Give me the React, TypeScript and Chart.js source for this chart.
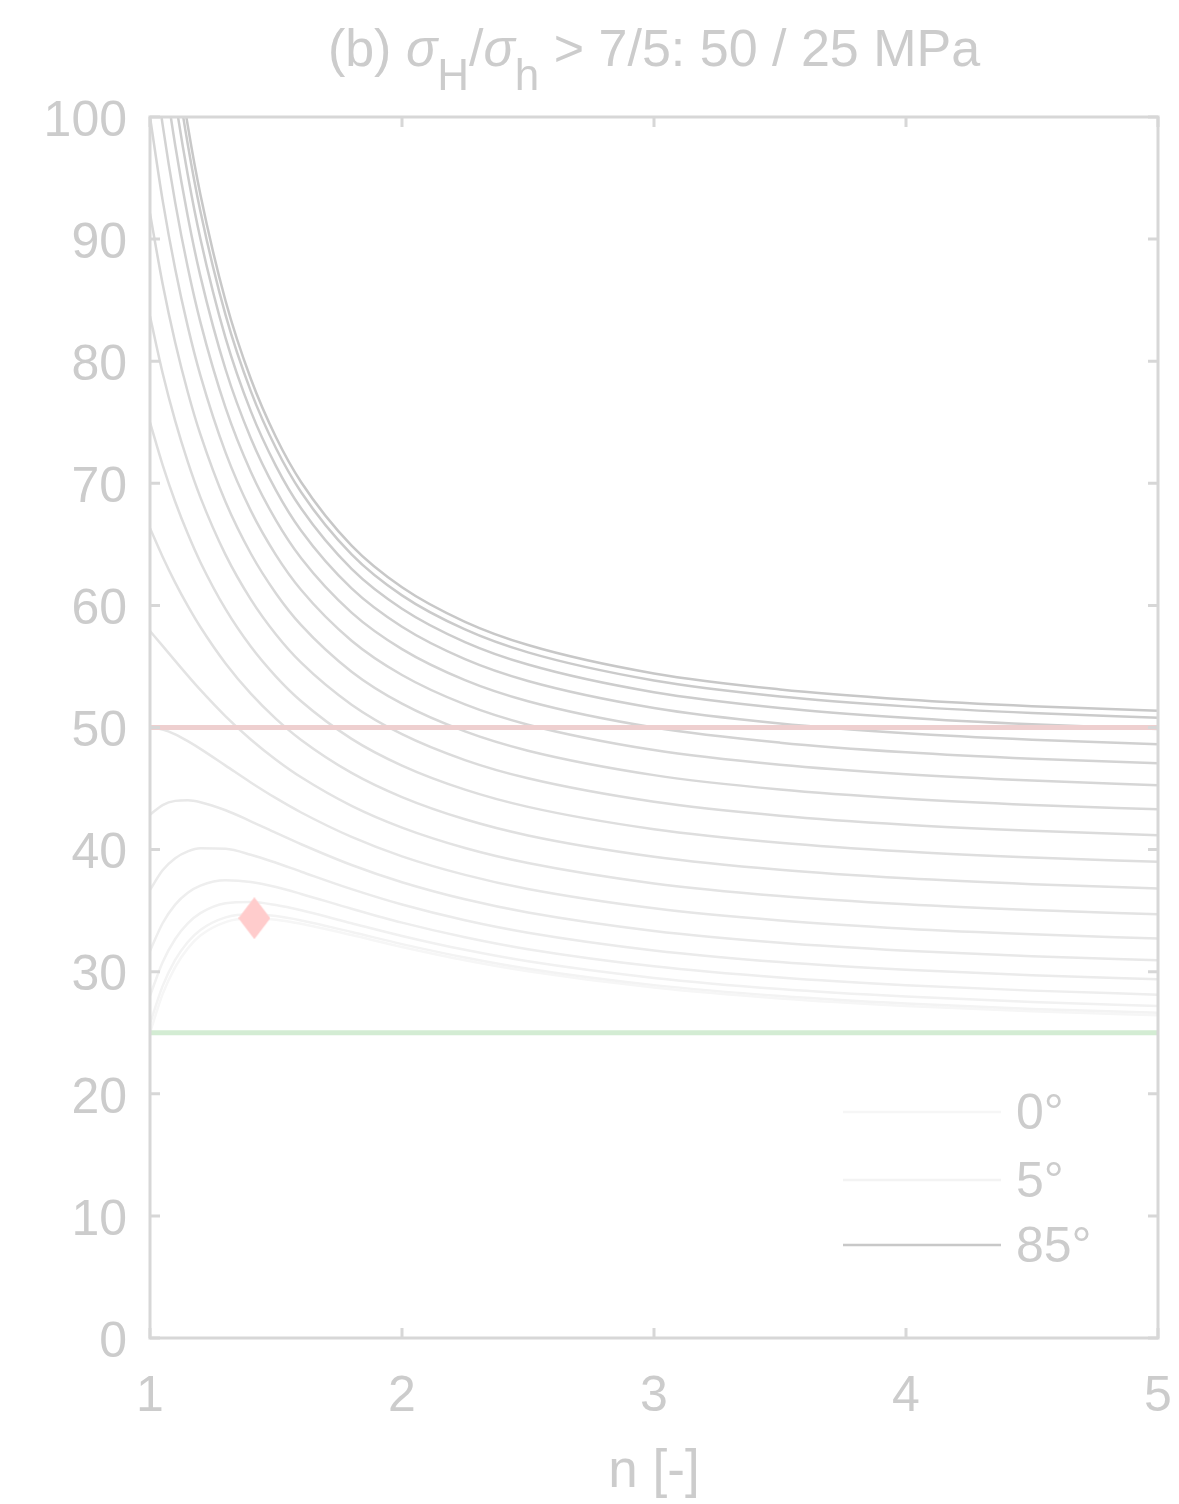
import React, { useEffect, useRef } from 'react';
import { Chart, registerables } from 'chart.js';

Chart.register(...registerables);

// ---------------- data ----------------
const N_VALUES = [1, 1.05, 1.1, 1.15, 1.2, 1.3, 1.4, 1.5, 1.6, 1.8, 2, 2.25, 2.5, 3, 3.5, 4, 4.5, 5];

const ANGLE_LABELS = ['0°', '5°', '10°', '15°', '20°', '25°', '30°', '35°', '40°', '45°', '50°', '55°', '60°', '65°', '70°', '75°', '80°', '85°'];

const S_00 = [25.0, 28.16, 30.38, 31.91, 32.96, 34.06, 34.37, 34.26, 33.93, 33.0, 32.03, 30.94, 30.04, 28.7, 27.81, 27.2, 26.76, 26.44];
const S_05 = [25.76, 28.82, 30.96, 32.43, 33.42, 34.45, 34.71, 34.56, 34.2, 33.25, 32.26, 31.16, 30.24, 28.9, 28.01, 27.39, 26.95, 26.63];
const S_10 = [28.02, 30.78, 32.68, 33.96, 34.8, 35.61, 35.71, 35.46, 35.03, 33.97, 32.93, 31.79, 30.85, 29.49, 28.58, 27.96, 27.52, 27.2];
const S_15 = [31.7, 33.97, 35.49, 36.46, 37.05, 37.49, 37.35, 36.93, 36.37, 35.16, 34.02, 32.82, 31.84, 30.44, 29.52, 28.89, 28.45, 28.12];
const S_20 = [36.7, 38.31, 39.3, 39.86, 40.11, 40.06, 39.58, 38.92, 38.19, 36.76, 35.5, 34.21, 33.19, 31.74, 30.79, 30.16, 29.71, 29.38];
const S_25 = [42.86, 43.65, 43.99, 44.04, 43.88, 43.22, 42.32, 41.37, 40.44, 38.74, 37.33, 35.93, 34.85, 33.34, 32.37, 31.72, 31.26, 30.93];
const S_30 = [50.0, 49.84, 49.44, 48.88, 48.25, 46.88, 45.5, 44.21, 43.04, 41.04, 39.45, 37.93, 36.77, 35.19, 34.19, 33.52, 33.06, 32.72];
const S_35 = [57.9, 56.69, 55.46, 54.25, 53.08, 50.92, 49.02, 47.36, 45.92, 43.58, 41.8, 40.13, 38.9, 37.23, 36.2, 35.52, 35.05, 34.7];
const S_40 = [66.32, 63.99, 61.87, 59.96, 58.23, 55.24, 52.77, 50.71, 48.98, 46.28, 44.3, 42.48, 41.16, 39.42, 38.35, 37.65, 37.17, 36.82];
const S_45 = [75.0, 71.51, 68.49, 65.86, 63.54, 59.69, 56.63, 54.17, 52.15, 49.07, 46.88, 44.91, 43.5, 41.67, 40.56, 39.84, 39.35, 39.0];
const S_50 = [83.68, 79.04, 75.11, 71.75, 68.85, 64.14, 60.5, 57.62, 55.31, 51.87, 49.45, 47.33, 45.84, 43.92, 42.78, 42.04, 41.54, 41.18];
const S_55 = [92.1, 86.34, 81.53, 77.46, 74.0, 68.46, 64.25, 60.98, 58.38, 54.57, 51.95, 49.68, 48.1, 46.1, 44.92, 44.17, 43.66, 43.3];
const S_60 = [100.0, 93.19, 87.55, 82.83, 78.84, 72.51, 67.76, 64.12, 61.26, 57.11, 54.3, 51.89, 50.23, 48.15, 46.94, 46.17, 45.65, 45.28];
const S_65 = [107.14, 99.38, 92.99, 87.67, 83.2, 76.17, 70.94, 66.96, 63.86, 59.41, 56.42, 53.88, 52.15, 50.0, 48.76, 47.97, 47.44, 47.08];
const S_70 = [113.3, 104.72, 97.69, 91.86, 86.97, 79.32, 73.69, 69.42, 66.11, 61.39, 58.25, 55.6, 53.81, 51.6, 50.33, 49.53, 49.0, 48.62];
const S_75 = [118.3, 109.06, 101.5, 95.25, 90.03, 81.89, 75.91, 71.41, 67.93, 62.99, 59.73, 57.0, 55.16, 52.89, 51.6, 50.8, 50.26, 49.88];
const S_80 = [121.98, 112.25, 104.31, 97.75, 92.28, 83.77, 77.55, 72.87, 69.27, 64.18, 60.82, 58.03, 56.15, 53.85, 52.54, 51.73, 51.18, 50.8];
const S_85 = [124.24, 114.21, 106.03, 99.28, 93.66, 84.93, 78.56, 73.77, 70.09, 64.9, 61.49, 58.66, 56.76, 54.43, 53.12, 52.3, 51.75, 51.37];

const SERIES = [S_00, S_05, S_10, S_15, S_20, S_25, S_30, S_35, S_40, S_45, S_50, S_55, S_60, S_65, S_70, S_75, S_80, S_85];

const LEGEND_SHOWN = ['0°', '5°', '85°'];

const SIGMA_H = 50;
const SIGMA_h = 25;
const PEAK_N = 1.414;
const PEAK_VALUE = 34.38;

const X_RANGE = [1, 5];
const Y_RANGE = [0, 100];
const X_TICKS = [1, 2, 3, 4, 5];
const Y_TICKS = [0, 10, 20, 30, 40, 50, 60, 70, 80, 90, 100];

const X_TITLE = 'n [-]';
const TITLE_PARTS = [
  { text: '(b) ', kind: 'main' },
  { text: 'σ', kind: 'italic' },
  { text: 'H', kind: 'sub' },
  { text: '/', kind: 'main' },
  { text: 'σ', kind: 'italic' },
  { text: 'h', kind: 'sub' },
  { text: ' > 7/5: 50 / 25 MPa', kind: 'main' },
];

// ---------------- styles ----------------
const FONT = "'Liberation Sans', Arial, Helvetica, sans-serif";
const TEXT_COLOR = '#cccccc';
const FRAME_COLOR = '#d7d7d7';
const PINK = '#eecfcf';
const GREEN = '#d3ecd3';
const DIAMOND = '#ffcccc';
const TICK_LEN = 10;

function grayFor(i: number) {
  const v = Math.round(246 - (46 * i) / 17);
  return `rgb(${v},${v},${v})`;
}

function makeDiamond() {
  const c = document.createElement('canvas');
  c.width = 32;
  c.height = 42;
  const g = c.getContext('2d')!;
  g.fillStyle = DIAMOND;
  g.beginPath();
  g.moveTo(16, 0);
  g.lineTo(32, 21);
  g.lineTo(16, 42);
  g.lineTo(0, 21);
  g.closePath();
  g.fill();
  return c;
}

const framePlugin = {
  id: 'frameTicks',
  afterDatasetsDraw(chart: any) {
    const { ctx, chartArea: a, scales } = chart;
    ctx.save();
    ctx.strokeStyle = FRAME_COLOR;
    ctx.lineWidth = 3;
    ctx.strokeRect(a.left, a.top, a.right - a.left, a.bottom - a.top);
    ctx.beginPath();
    X_TICKS.forEach((v) => {
      const x = scales.x.getPixelForValue(v);
      ctx.moveTo(x, a.bottom);
      ctx.lineTo(x, a.bottom - TICK_LEN);
      ctx.moveTo(x, a.top);
      ctx.lineTo(x, a.top + TICK_LEN);
    });
    Y_TICKS.forEach((v) => {
      const y = scales.y.getPixelForValue(v);
      ctx.moveTo(a.left, y);
      ctx.lineTo(a.left + TICK_LEN, y);
      ctx.moveTo(a.right, y);
      ctx.lineTo(a.right - TICK_LEN, y);
    });
    ctx.stroke();
    ctx.restore();
  },
};

const titlePlugin = {
  id: 'subTitle',
  afterDraw(chart: any) {
    const { ctx, chartArea: a } = chart;
    const fonts: Record<string, string> = {
      main: `52px ${FONT}`,
      italic: `italic 52px ${FONT}`,
      sub: `44px ${FONT}`,
    };
    const baseY = 66;
    const subY = 90;
    ctx.save();
    let total = 0;
    const widths = TITLE_PARTS.map((p) => {
      ctx.font = fonts[p.kind];
      const w = ctx.measureText(p.text).width;
      total += w;
      return w;
    });
    let x = (a.left + a.right) / 2 - total / 2;
    ctx.fillStyle = TEXT_COLOR;
    ctx.textBaseline = 'alphabetic';
    ctx.textAlign = 'left';
    TITLE_PARTS.forEach((p, i) => {
      ctx.font = fonts[p.kind];
      ctx.fillText(p.text, x, p.kind === 'sub' ? subY : baseY);
      x += widths[i];
    });
    ctx.restore();
  },
};

const legendPlugin = {
  id: 'insideLegend',
  afterDraw(chart: any) {
    const { ctx, chartArea: a } = chart;
    const rowOffsets = [226, 158, 93];
    ctx.save();
    ctx.font = `50px ${FONT}`;
    ctx.textBaseline = 'middle';
    ctx.textAlign = 'left';
    LEGEND_SHOWN.forEach((label, k) => {
      const idx = ANGLE_LABELS.indexOf(label);
      const y = a.bottom - rowOffsets[k];
      ctx.strokeStyle = grayFor(idx);
      ctx.lineWidth = 2.5;
      ctx.beginPath();
      ctx.moveTo(a.right - 315, y);
      ctx.lineTo(a.right - 157, y);
      ctx.stroke();
      ctx.fillStyle = TEXT_COLOR;
      ctx.fillText(label, a.right - 142, y + 3);
    });
    ctx.restore();
  },
};

export default function App() {
  const canvasRef = useRef<HTMLCanvasElement | null>(null);

  useEffect(() => {
    if (!canvasRef.current) return;
    const diamond = makeDiamond();

    const curveSets = SERIES.map((s, i) => ({
      label: ANGLE_LABELS[i],
      data: N_VALUES.map((n, j) => ({ x: n, y: s[j] })),
      borderColor: grayFor(i),
      borderWidth: 2.5,
      pointRadius: 0,
      cubicInterpolationMode: 'monotone' as const,
      fill: false,
      order: 2 + (SERIES.length - 1 - i),
    }));

    const chart = new Chart(canvasRef.current, {
      type: 'line',
      data: {
        datasets: [
          {
            label: 'peak',
            data: [{ x: PEAK_N, y: PEAK_VALUE }],
            showLine: false,
            pointStyle: diamond as any,
            pointRadius: 20,
            order: 0,
          },
          {
            label: 'sigma_H',
            data: X_RANGE.map((x) => ({ x, y: SIGMA_H })),
            borderColor: PINK,
            borderWidth: 5,
            pointRadius: 0,
            order: 1,
          },
          {
            label: 'sigma_h',
            data: X_RANGE.map((x) => ({ x, y: SIGMA_h })),
            borderColor: GREEN,
            borderWidth: 5,
            pointRadius: 0,
            order: 1,
          },
          ...curveSets,
        ] as any,
      },
      options: {
        responsive: false,
        devicePixelRatio: 1,
        animation: false,
        events: [],
        layout: { padding: { top: 117, right: 17, left: 0, bottom: 0 } },
        plugins: {
          legend: { display: false },
          title: { display: false },
          tooltip: { enabled: false },
        },
        scales: {
          x: {
            type: 'linear',
            min: X_RANGE[0],
            max: X_RANGE[1],
            afterBuildTicks: (s: any) => {
              s.ticks = X_TICKS.map((v) => ({ value: v }));
            },
            afterFit: (s: any) => {
              s.height = 166;
              s.paddingLeft = 0;
              s.paddingRight = 0;
            },
            grid: { display: false, drawTicks: false },
            border: { display: false },
            ticks: {
              color: TEXT_COLOR,
              font: { family: FONT, size: 50 },
              padding: 29,
              maxRotation: 0,
              autoSkip: false,
            },
            title: {
              display: true,
              text: X_TITLE,
              color: TEXT_COLOR,
              font: { family: FONT, size: 53 },
              padding: { top: 0, bottom: 0 },
            },
          },
          y: {
            type: 'linear',
            min: Y_RANGE[0],
            max: Y_RANGE[1],
            afterBuildTicks: (s: any) => {
              s.ticks = Y_TICKS.map((v) => ({ value: v }));
            },
            afterFit: (s: any) => {
              s.width = 150;
              s.paddingTop = 0;
              s.paddingBottom = 0;
            },
            grid: { display: false, drawTicks: false },
            border: { display: false },
            ticks: {
              color: TEXT_COLOR,
              font: { family: FONT, size: 50 },
              padding: 23,
              labelOffset: 5,
              autoSkip: false,
            },
          },
        },
      } as any,
      plugins: [framePlugin, titlePlugin, legendPlugin],
    });

    return () => chart.destroy();
  }, []);

  return (
    <div style={{ position: 'absolute', left: 0, top: 0, width: 1179, height: 1504, background: '#ffffff' }}>
      <canvas ref={canvasRef} width={1179} height={1504} style={{ display: 'block' }} />
    </div>
  );
}
